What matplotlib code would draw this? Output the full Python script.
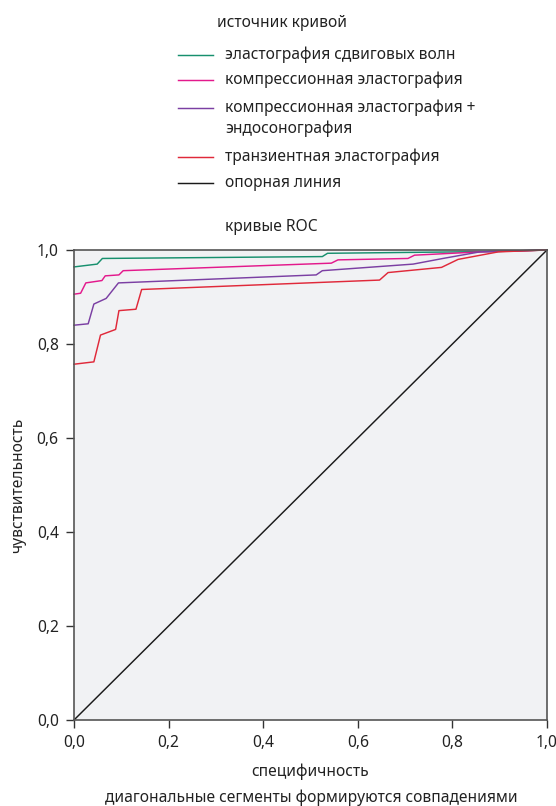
import matplotlib
matplotlib.use("Agg")
import matplotlib.pyplot as plt
from matplotlib.lines import Line2D

plt.rcParams['font.family'] = ['Noto Sans', 'DejaVu Sans']

# ROC curves (x = 1 - specificity, y = sensitivity)
swe_x = [0.0, 0.049, 0.060, 0.525, 0.536, 0.904, 1.0]
swe_y = [0.964, 0.970, 0.982, 0.986, 0.993, 0.997, 1.0]

comp_x = [0.0, 0.014, 0.025, 0.059, 0.066, 0.095, 0.104, 0.544, 0.558, 0.706, 0.720, 0.858, 1.0]
comp_y = [0.906, 0.908, 0.930, 0.935, 0.945, 0.947, 0.956, 0.972, 0.979, 0.982, 0.989, 0.996, 1.0]

eus_x = [0.0, 0.030, 0.042, 0.068, 0.094, 0.512, 0.525, 0.717, 0.780, 0.858, 1.0]
eus_y = [0.840, 0.843, 0.885, 0.897, 0.930, 0.947, 0.956, 0.970, 0.982, 0.996, 1.0]

te_x = [0.0, 0.042, 0.056, 0.088, 0.095, 0.131, 0.143, 0.646, 0.664, 0.777, 0.812, 0.897, 1.0]
te_y = [0.757, 0.762, 0.819, 0.831, 0.871, 0.874, 0.916, 0.936, 0.952, 0.963, 0.980, 0.996, 1.0]

ref_x = [0.0, 1.0]
ref_y = [0.0, 1.0]

labels = ["эластография сдвиговых волн",
          "компрессионная эластография",
          "компрессионная эластография +\nэндосонография",
          "транзиентная эластография",
          "опорная линия"]
colors = ["#17906e", "#e3198c", "#7b3fa3", "#e0293a", "#1a1a1a"]

ticks = [0.0, 0.2, 0.4, 0.6, 0.8, 1.0]
tick_labels = ["0,0", "0,2", "0,4", "0,6", "0,8", "1,0"]

W, H = 556, 806
FS = 11.2
TXT = "#222222"

fig = plt.figure(figsize=(W/100, H/100), dpi=100)
ax = fig.add_axes([74/W, 1-720/H, 473/W, 470/H])
ax.set_facecolor("#f1f2f4")

series = [(swe_x, swe_y), (comp_x, comp_y), (eus_x, eus_y), (te_x, te_y), (ref_x, ref_y)]
for (xs, ys), c in zip(series, colors):
    ax.plot(xs, ys, color=c, lw=1.05, clip_on=False)

ax.set_xlim(0, 1)
ax.set_ylim(0, 1)
ax.set_xticks(ticks)
ax.set_xticklabels(tick_labels)
ax.set_yticks(ticks)
ax.set_yticklabels(tick_labels)
ax.tick_params(direction='out', length=6, width=1.0, color="#333333",
               labelsize=FS, labelcolor=TXT, pad=5)
for s in ax.spines.values():
    s.set_color("#555555")
    s.set_linewidth(1.2)

ax.set_xlabel("специфичность", fontsize=FS, color=TXT)
ax.xaxis.label.set_va('center')
ax.xaxis.set_label_coords(0.5, (720-772)/470)
ax.set_ylabel("чувствительность", fontsize=FS, color=TXT)
ax.yaxis.label.set_va('center')
ax.yaxis.set_label_coords((18-74)/473, 0.5)

fig.text(311/W, 1-798/H, "диагональные сегменты формируются совпадениями",
         ha='center', va='center', fontsize=FS, color=TXT)
fig.text(271/W, 1-227/H, "кривые ROC", ha='center', va='center',
         fontsize=FS, color=TXT)
fig.text(217/W, 1-23/H, "источник кривой", ha='left', va='center',
         fontsize=FS, color=TXT)

# legend drawn manually
entry_y = [55, 80, 108, 157, 183]
line_gap = 21
for lab, c, yy in zip(labels, colors, entry_y):
    fig.add_artist(Line2D([178/W, 213/W], [1-yy/H, 1-yy/H], color=c, lw=1.05))
    for k, part in enumerate(lab.split("\n")):
        fig.text(225/W, 1-(yy + k*line_gap)/H, part, ha='left', va='center',
                 fontsize=FS, color=TXT)

fig.savefig("out.png", dpi=100)
